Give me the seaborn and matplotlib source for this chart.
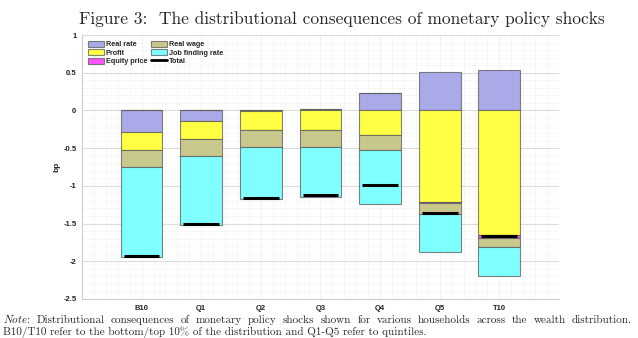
import numpy as np
import pandas as pd
import matplotlib
matplotlib.use("Agg")
import matplotlib.pyplot as plt
from matplotlib.patches import Patch
from matplotlib.lines import Line2D
from matplotlib.ticker import MultipleLocator
import seaborn as sns

categories = ["B10", "Q1", "Q2", "Q3", "Q4", "Q5", "T10"]
real_rate = [-0.29, -0.14, -0.005, 0.017, 0.234, 0.508, 0.54]
profit = [-0.24, -0.24, -0.25, -0.256, -0.323, -1.22, -1.645]
equity_price = [0.0, 0.0, 0.0, 0.0, 0.0, -0.006, -0.045]
real_wage = [-0.22, -0.226, -0.225, -0.225, -0.2, -0.15, -0.12]
job_finding = [-1.19, -0.91, -0.70, -0.665, -0.716, -0.504, -0.38]
total = [-1.93, -1.51, -1.165, -1.12, -0.995, -1.355, -1.66]

components = [
    ("Real rate", real_rate, "#aaaae8"),
    ("Profit", profit, "#ffff44"),
    ("Equity price", equity_price, "#ff55ff"),
    ("Real wage", real_wage, "#c8c88c"),
    ("Job finding rate", job_finding, "#7fffff"),
]

sns.set_theme(style="white")
plt.rcParams["font.family"] = ["Liberation Sans", "DejaVu Sans"]
plt.rcParams["mathtext.fontset"] = "cm"

fig = plt.figure(figsize=(6.38, 3.38), dpi=100)
ax = fig.add_axes([0.1285, 0.1154, 0.876 - 0.1285, 0.8964 - 0.1154])

pos_base = np.zeros(len(categories))
neg_base = np.zeros(len(categories))
edge = (0.35, 0.35, 0.35, 0.75)
for name, vals, col in components:
    v = np.array(vals, dtype=float)
    bottoms = np.where(v >= 0, pos_base, neg_base)
    df = pd.DataFrame({"cat": categories, "val": v})
    sns.barplot(data=df, x="cat", y="val", order=categories, bottom=bottoms,
                color=col, saturation=1, width=0.7, edgecolor=edge,
                linewidth=0.8, errorbar=None, ax=ax)
    pos_base = pos_base + np.where(v >= 0, v, 0)
    neg_base = neg_base + np.where(v < 0, v, 0)

xs = np.arange(len(categories))
ax.hlines(total, xs - 0.3, xs + 0.3, color="black", lw=2.2, zorder=5)

ax.set_xlim(-1, 7)
ax.set_ylim(-2.5, 1)
ax.yaxis.set_minor_locator(MultipleLocator(0.1))
ax.xaxis.set_minor_locator(MultipleLocator(0.2))
ax.set_yticks([1, 0.5, 0, -0.5, -1, -1.5, -2, -2.5])
ax.set_yticklabels(["1", "0.5", "0", "-0.5", "-1", "-1.5", "-2", "-2.5"])
ax.set_axisbelow(True)
ax.grid(True, which="major", axis="y", color="#dcdcdc", lw=0.8)
ax.grid(True, which="major", axis="x", color="#f0f0f0", lw=0.6)
ax.grid(True, which="minor", color="#f4f4f4", lw=0.5)
ax.tick_params(axis="both", which="major", labelsize=5.5, length=3,
               color="#bbbbbb", labelcolor="#222222", width=0.6,
               direction="in", pad=4)
ax.tick_params(which="minor", length=0)
for lab in ax.get_xticklabels() + ax.get_yticklabels():
    lab.set_fontweight("bold")
ax.set_xlabel("")
ax.set_ylabel("bp", fontsize=6, fontweight="bold", color="#222222", labelpad=2)
for s in ["top", "right"]:
    ax.spines[s].set_visible(False)
for s in ["left", "bottom"]:
    ax.spines[s].set_color("#cccccc")
    ax.spines[s].set_linewidth(0.8)

handles = []
for name, vals, col in components:
    handles.append(Patch(facecolor=col, edgecolor=edge, linewidth=0.8, label=name))
handles.append(Line2D([0], [0], color="black", lw=2.0, label="Total"))
leg = ax.legend(handles=handles, ncol=2, loc="upper left",
                bbox_to_anchor=(0.0, 1.0), frameon=False,
                prop={"size": 5.2, "weight": "bold"},
                handlelength=2.2, handleheight=0.9, columnspacing=0.5,
                labelspacing=0.12, handletextpad=0.3, borderaxespad=0.4)

fig.text(0.536, 0.945, "Figure 3:  The distributional consequences of monetary policy shocks",
         ha="center", va="center", fontsize=12.5, family="cmr10")

# justified first note line
words = [r"$\mathit{Note}$:"] + ("Distributional consequences of monetary policy shocks shown "
         "for various households across the wealth distribution.").split()
renderer = fig.canvas.get_renderer()
fs_note = 8.0
x_left, x_right = 3.0, 632.0
artists = []
widths = []
for w in words:
    t = fig.text(0, 0, w, fontsize=fs_note, family="cmr10", ha="left",
                 va="baseline")
    widths.append(t.get_window_extent(renderer).width)
    artists.append(t)
gap = (x_right - x_left - sum(widths)) / (len(words) - 1)
xcur = x_left
for t, wdt in zip(artists, widths):
    t.set_position((xcur / 638.0, (338 - 323.0) / 338.0))
    xcur += wdt + gap

fig.text(3.0 / 638.0, (338 - 334.5) / 338.0,
         "B10/T10 refer to the bottom/top 10% of the distribution and Q1-Q5 refer to quintiles.",
         ha="left", va="baseline", fontsize=fs_note, family="cmr10")

fig.savefig("out.png", dpi=100)
